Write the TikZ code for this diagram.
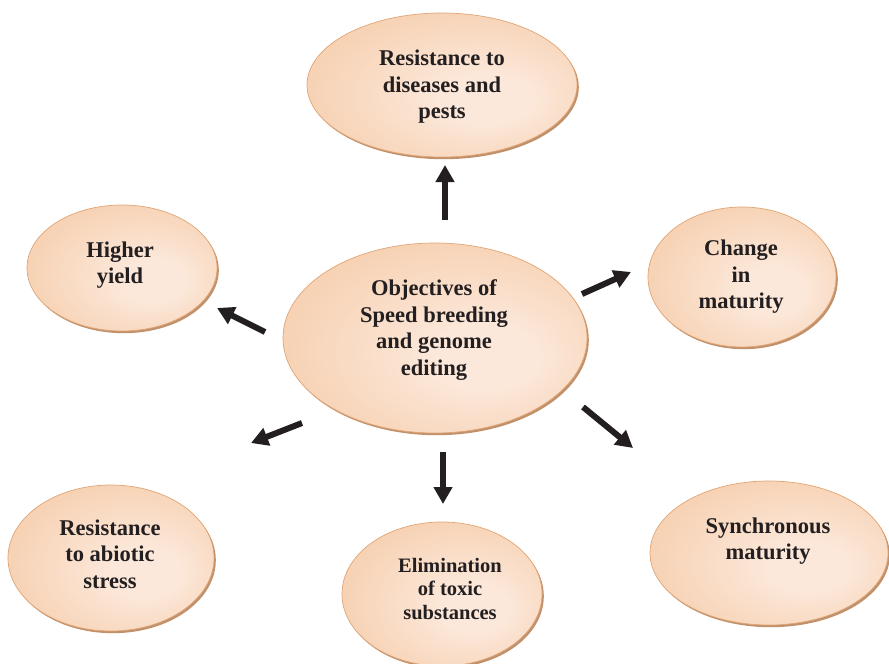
\documentclass[tikz,border=0pt]{standalone}
\usepackage{fontspec}
\setmainfont{Liberation Serif}
\usetikzlibrary{shapes.geometric,arrows.meta,shadows}

\definecolor{peachlight}{HTML}{FCE8DA}
\definecolor{peachmid}{HTML}{F5CBA8}
\definecolor{peachdark}{HTML}{ECB287}
\definecolor{peachrim}{HTML}{E0A576}
\definecolor{peachshadow}{HTML}{B9855A}
\definecolor{inkblack}{HTML}{231F20}

\pgfdeclareradialshading{peachglow}{\pgfpoint{10bp}{-6bp}}{%
  color(0bp)=(peachlight); color(8bp)=(peachlight);
  color(36bp)=(peachmid); color(50bp)=(peachdark)}

\tikzset{
  blob/.style={ellipse, inner sep=0pt, shading=peachglow,
    draw=peachrim, line width=0.7pt,
    drop shadow={shadow xshift=1.8pt, shadow yshift=-2.2pt,
      fill=peachshadow, opacity=0.9}},
  lbl/.style={align=center, inner sep=0pt, text=inkblack,
    font=\bfseries\fontsize{22.5}{26.5}\selectfont},
  lblsmall/.style={lbl, font=\bfseries\fontsize{20.5}{23.5}\selectfont},
  arr/.style={draw=inkblack, line width=6pt,
    -{Triangle[width=18pt,length=17pt]}},
}

\begin{document}
\begin{tikzpicture}[x=1pt,y=-1pt]
\useasboundingbox (0,0) rectangle (889,664);

% ellipses
\node[blob, minimum width=270pt, minimum height=144pt] (pests) at (442,85) {};
\node[blob, minimum width=190pt, minimum height=126pt] (yield) at (122,268) {};
\node[blob, minimum width=304pt, minimum height=190pt] (obj) at (435,338) {};
\node[blob, minimum width=188pt, minimum height=140pt] (change) at (742,277) {};
\node[blob, minimum width=238pt, minimum height=144pt] (sync) at (769,553) {};
\node[blob, minimum width=206pt, minimum height=146pt] (abiotic) at (111,558) {};
\node[blob, minimum width=200pt, minimum height=144pt] (elim) at (442,594) {};

% labels
\node[lbl] (pests-t) at (442,87) {Resistance to\\diseases and\\pests};
\node[lbl] (yield-t) at (120,265) {Higher\\yield};
\node[lbl] (obj-t) at (434,330) {Objectives of\\Speed breeding\\and genome\\editing};
\node[lbl] (change-t) at (741,277) {Change\\in\\maturity};
\node[lbl] (sync-t) at (768,541) {Synchronous\\maturity};
\node[lbl] (abiotic-t) at (110,554) {Resistance\\to abiotic\\stress};
\node[lblsmall] (elim-t) at (450,589) {Elimination\\of toxic\\substances};

% arrow ends
\coordinate (up-s) at (445,220);   \coordinate (up-e) at (445,165);
\coordinate (yl-s) at (265,332);   \coordinate (yl-e) at (217,308);
\coordinate (ch-s) at (582,294);   \coordinate (ch-e) at (631,272);
\coordinate (ab-s) at (302,423);   \coordinate (ab-e) at (251,443);
\coordinate (el-s) at (443,452);   \coordinate (el-e) at (443,504);
\coordinate (sy-s) at (583,407);   \coordinate (sy-e) at (633,448);

\draw[arr] (up-s) -- (up-e);
\draw[arr] (yl-s) -- (yl-e);
\draw[arr] (ch-s) -- (ch-e);
\draw[arr] (ab-s) -- (ab-e);
\draw[arr] (el-s) -- (el-e);
\draw[arr] (sy-s) -- (sy-e);
\end{tikzpicture}
\end{document}
